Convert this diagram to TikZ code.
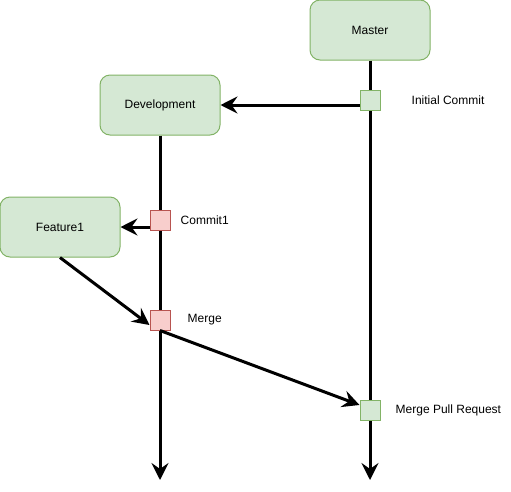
\documentclass[tikz,border=0pt]{standalone}
\usepackage{fontspec}
\setmainfont{Liberation Sans}
\usetikzlibrary{arrows.meta,positioning}
\definecolor{branchfill}{HTML}{D5E8D4}
\definecolor{branchline}{HTML}{82B366}
\definecolor{featfill}{HTML}{F8CECC}
\definecolor{featline}{HTML}{B85450}

\begin{document}
\begin{tikzpicture}[x=1pt,y=-1pt,
        branch/.style={draw=branchline,fill=branchfill,line width=1pt,
            rounded corners=10pt,minimum width=120pt,minimum height=60pt,
            inner sep=0pt,font=\fontsize{12}{14}\selectfont},
        greencommit/.style={draw=branchline,fill=branchfill,line width=1pt,
            minimum size=20pt,inner sep=0pt},
        redcommit/.style={draw=featline,fill=featfill,line width=1pt,
            minimum size=20pt,inner sep=0pt},
        commitlabel/.style={inner sep=0pt,font=\fontsize{12}{14}\selectfont},
        flow/.style={line width=3pt,-{Stealth[length=17pt,width=17pt,inset=6pt]}}]
            \useasboundingbox (0,0) rectangle (511,491);
            \node[branch] (master) at (370,30) {Master};
            \node[branch] (dev) at (160,105) {Development};
            \node[branch] (feat) at (60,227) {Feature1};
            \coordinate (masterend) at (370,480);
            \coordinate (devend) at (160,480);
            \draw[flow](master)--(masterend);
            \draw[flow](dev)--(devend);
            \node[greencommit] (init) at (370,100) {};
            \node[redcommit] (c1) at (160,220) {};
            \node[redcommit] (merge) at (160,320) {};
            \node[greencommit] (pull) at (370,410) {};
            \node[commitlabel,right=31pt of init] (initlabel) {Initial Commit};
            \node[commitlabel,right=10pt of c1] (c1label) {Commit1};
            \node[commitlabel,right=17pt of merge] (mergelabel) {Merge};
            \node[commitlabel,right=15pt of pull] (pulllabel) {Merge Pull Request};
            \draw[flow](init.west |- dev.east)--(dev.east);
            \draw[flow](c1.west |- feat.east)--(feat.east);
            \draw[flow](feat.south)--([yshift=-5pt]merge.west);
            \draw[flow](merge.south)--([yshift=5pt]pull.west);
        \end{tikzpicture}
\end{document}
